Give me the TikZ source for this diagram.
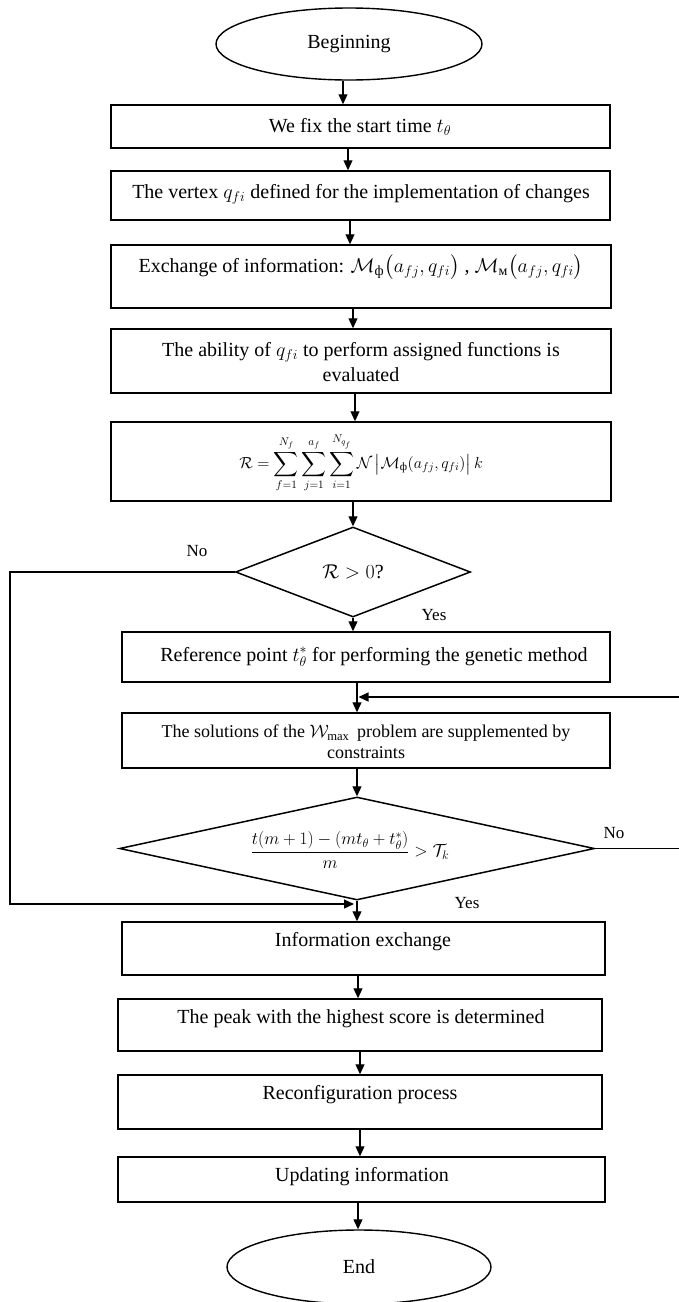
\RequirePackage{fix-cm}
\documentclass[tikz,border=0pt]{standalone}
\usepackage{amsmath}
\usepackage{fontspec}
\setmainfont{Liberation Serif}
\usetikzlibrary{shapes.geometric,arrows.meta}
\begin{document}
\begin{tikzpicture}[x=1pt,y=-1pt,
  box/.style={draw, line width=1.5pt, inner sep=0pt},
  term/.style={draw, ellipse, line width=1.4pt, inner sep=0pt, font=\fontsize{20}{24}\selectfont},
  dia/.style={draw, diamond, line width=1.5pt, inner sep=0pt},
  conn/.style={line width=1.2pt},
  arr/.style={conn, -{Triangle[length=10pt,width=9pt]}},
  txt/.style={font=\fontsize{20}{25.5}\selectfont, align=center, inner sep=0pt},
  small/.style={font=\fontsize{18}{21}\selectfont, align=center, inner sep=0pt},
  lab/.style={font=\fontsize{17}{20}\selectfont, inner sep=0pt},
]
\useasboundingbox (0,0) rectangle (678,1302);

% terminals
\node[term, minimum width=266pt, minimum height=72pt] (beg) at (349,44) {Beginning};
\node[term, minimum width=264pt, minimum height=74pt] (end) at (359,1267) {End};

% boxes
\node[box, minimum width=499pt, minimum height=43pt] (b1) at (360.5,126.5) {};
\node[txt] (t1) at (360,127) {We fix the start time $t_\theta$};

\node[box, minimum width=499pt, minimum height=49pt] (b2) at (360.5,195.5) {};
\node[txt] (t2) at (361,194) {The vertex $q_{fi}$ defined for the implementation of changes};

\node[box, minimum width=500pt, minimum height=63pt] (b3) at (361,276.5) {};
\node[txt] (t3) at (361,267) {Exchange of information: $\mathcal{M}_{\text{ф}}\big(a_{fj},q_{fi}\big)$ , $\mathcal{M}_{\text{м}}\big(a_{fj},q_{fi}\big)$};

\node[box, minimum width=500pt, minimum height=64pt] (b4) at (361,361) {};
\node[txt] (t4) at (361,362) {The ability of $q_{fi}$ to perform assigned functions is\\evaluated};

\node[box, minimum width=500pt, minimum height=79pt] (b5) at (361,461.5) {};
\node[inner sep=0pt, font=\fontsize{16}{19}\selectfont] (t5) at (361,463)
  {$\displaystyle \mathcal{R}=\sum_{f=1}^{N_f}\sum_{j=1}^{a_f}\sum_{i=1}^{N_{q_f}}\mathcal{N}\,\bigl|\mathcal{M}_{\text{ф}}(a_{fj},q_{fi})\bigr|\,k$};

\node[dia, minimum width=235pt, minimum height=90pt] (d1) at (353,572) {};
\node[txt] (td1) at (353,572) {$\mathcal{R}>0$?};

\node[box, minimum width=488pt, minimum height=50pt] (b6) at (366,657) {};
\node[txt] (t6) at (374,657) {Reference point $t_\theta^{*}$ for performing the genetic method};

\node[box, minimum width=488pt, minimum height=55pt] (b7) at (366,740.5) {};
\node[small] (t7) at (366,742) {The solutions of the $\mathcal{W}_{\max}$\, problem are supplemented by\\constraints};

\node[dia, minimum width=475pt, minimum height=103pt] (d2) at (357,848.5) {};
\node[inner sep=0pt, font=\fontsize{17.5}{21}\selectfont] (td2) at (350,850)
  {$\dfrac{t(m+1)-(mt_\theta+t_\theta^{*})}{m}>\mathcal{T}_k$};

\node[box, minimum width=483pt, minimum height=53pt] (b8) at (363.5,948.5) {};
\node[txt] (t8) at (363,942) {Information exchange};

\node[box, minimum width=484pt, minimum height=52pt] (b9) at (360,1025) {};
\node[txt] (t9) at (361,1019) {The peak with the highest score is determined};

\node[box, minimum width=484pt, minimum height=54pt] (b10) at (360,1102) {};
\node[txt] (t10) at (360,1095) {Reconfiguration process};

\node[box, minimum width=487pt, minimum height=45pt] (b11) at (361.5,1179.5) {};
\node[txt] (t11) at (362,1177) {Updating information};

% labels
\node[lab] (no1) at (197,551) {No};
\node[lab] (yes1) at (434,615) {Yes};
\node[lab] (no2) at (614,833) {No};
\node[lab] (yes2) at (467,903) {Yes};

% helper coordinates
\coordinate (m1) at (357,697);
\coordinate (m2) at (354,904);
\coordinate (L1) at (10,572);
\coordinate (R1) at (681,848.5);
\coordinate (R2) at (681,697);

% connectors
\draw[arr] ([xshift=-6pt]beg.south) -- ([xshift=-6pt]beg.south |- b1.north);
\draw[arr] ([xshift=-12.5pt]b1.south) -- ([xshift=-12.5pt]b1.south |- b2.north);
\draw[arr] ([xshift=-10.5pt]b2.south) -- ([xshift=-10.5pt]b2.south |- b3.north);
\draw[arr] ([xshift=-8pt]b3.south) -- ([xshift=-8pt]b3.south |- b4.north);
\draw[arr] ([xshift=-6pt]b4.south) -- ([xshift=-6pt]b4.south |- b5.north);
\draw[arr] (b5.south -| d1.north) -- (d1.north);
\draw[arr] (d1.south) -- (d1.south |- b6.north);
\draw[arr] (b6.south -| m1) -- (b7.north -| m1);
\draw[arr] (b7.south -| d2.north) -- (d2.north);
\draw[arr] (d2.south) -- (d2.south |- b8.north);
\draw[arr] ([xshift=-5.5pt]b8.south) -- ([xshift=-5.5pt]b8.south |- b9.north);
\draw[arr] (b9.south) -- (b9.south |- b10.north);
\draw[arr] (b10.south) -- (b10.south |- b11.north);
\draw[arr] ([xshift=-3.5pt]b11.south) -- ([xshift=-3.5pt]b11.south |- end.north);

% loops
\draw[arr] (d1.west) -- (L1) |- (m2);
\draw[arr] (d2.east) -- (R1) -- (R2) -- ([xshift=1.5pt]m1);
\end{tikzpicture}
\end{document}
